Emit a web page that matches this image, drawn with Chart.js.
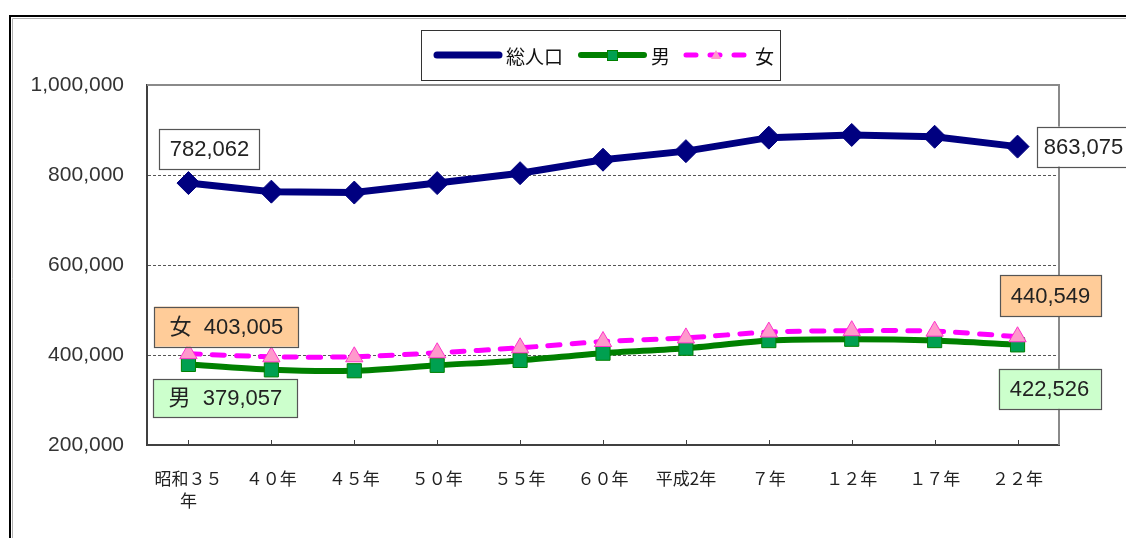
<!DOCTYPE html>
<html>
<head>
<meta charset="utf-8">
<script src="https://cdn.jsdelivr.net/npm/chart.js@4"></script>
<style>
  body { margin: 0; background: #fff; }
  #wrap { width: 1126px; height: 538px; }
</style>
</head>
<body>
<div id="wrap"><canvas id="popChart" width="1126" height="538"></canvas></div>
<script>
const years = [['昭和３５', '年'], '４０年', '４５年', '５０年', '５５年', '６０年', '平成2年', '７年', '１２年', '１７年', '２２年'];
const totalPop = [782062, 763000, 761000, 782000, 804000, 834000, 853000, 883000, 889000, 885000, 863075];
const malePop = [379057, 367000, 365000, 377000, 388000, 404000, 415000, 432000, 435000, 432000, 422526];
const femalePop = [403005, 396000, 396000, 405000, 416000, 430000, 438000, 451000, 454000, 453000, 440549];
const yTicks = [200000, 400000, 600000, 800000, 1000000];

const FONT = '"Noto Sans CJK JP", "Noto Sans", sans-serif';
const NUM_FONT = '"Liberation Sans", "Noto Sans CJK JP", sans-serif';
const fmt = v => v.toLocaleString('en-US');

// frame around the whole figure + plot border + inward ticks
const framePlugin = {
    id: 'frame',
    beforeDraw(chart) {
        const ctx = chart.ctx;
        ctx.save();
        ctx.fillStyle = '#fff';
        ctx.fillRect(0, 0, chart.width, chart.height);
        ctx.strokeStyle = '#000';
        ctx.lineWidth = 2;
        ctx.beginPath();
        ctx.moveTo(10, chart.height);
        ctx.lineTo(10, 16);
        ctx.lineTo(chart.width, 16);
        ctx.stroke();
        ctx.strokeStyle = '#b0b0b0';
        ctx.lineWidth = 1;
        ctx.beginPath();
        ctx.moveTo(12.5, chart.height);
        ctx.lineTo(12.5, 18.5);
        ctx.lineTo(chart.width, 18.5);
        ctx.stroke();
        ctx.restore();
    },
    beforeDatasetsDraw(chart) {
        const { ctx, chartArea: a, scales } = chart;
        ctx.save();
        ctx.strokeStyle = '#8a8a8a';
        ctx.lineWidth = 2;
        ctx.beginPath();
        ctx.moveTo(a.left, a.top);
        ctx.lineTo(a.right, a.top);
        ctx.lineTo(a.right, a.bottom);
        ctx.stroke();
        ctx.strokeStyle = '#404040';
        ctx.lineWidth = 1;
        ctx.beginPath();
        years.forEach((_, i) => {
            const x = Math.round(scales.x.getPixelForValue(i)) + 0.5;
            ctx.moveTo(x, a.bottom);
            ctx.lineTo(x, a.bottom - 5);
        });
        ctx.stroke();
        ctx.restore();
    }
};

// boxed value labels at the first and last year
function drawBox(ctx, cx, cy, w, h, fill, text) {
    ctx.fillStyle = fill;
    ctx.fillRect(cx - w / 2, cy - h / 2, w, h);
    ctx.strokeStyle = '#555';
    ctx.lineWidth = 1.2;
    ctx.strokeRect(Math.round(cx - w / 2) + 0.5, Math.round(cy - h / 2) + 0.5, w, h);
    ctx.fillStyle = '#222';
    ctx.font = '22px ' + NUM_FONT;
    ctx.textAlign = 'center';
    ctx.textBaseline = 'middle';
    ctx.fillText(text, cx, cy + 1);
}

const valueLabels = {
    id: 'valueLabels',
    afterDatasetsDraw(chart) {
        const ctx = chart.ctx;
        const last = years.length - 1;
        const pt = (ds, i) => chart.getDatasetMeta(ds).data[i];
        ctx.save();
        let p = pt(0, 0);
        drawBox(ctx, p.x + 21, p.y - 34, 100, 40, '#fff', fmt(totalPop[0]));
        p = pt(0, last);
        drawBox(ctx, p.x + 66, p.y, 94, 40, '#fff', fmt(totalPop[last]));
        p = pt(2, 0);
        drawBox(ctx, p.x + 38, p.y - 27, 144, 40, '#ffcc99', '女  ' + fmt(femalePop[0]));
        p = pt(1, 0);
        drawBox(ctx, p.x + 37, p.y + 34, 144, 38, '#ccffcc', '男  ' + fmt(malePop[0]));
        p = pt(2, last);
        drawBox(ctx, p.x + 33, p.y - 41, 101, 41, '#ffcc99', fmt(femalePop[last]));
        p = pt(1, last);
        drawBox(ctx, p.x + 32, p.y + 44, 102, 40, '#ccffcc', fmt(malePop[last]));
        ctx.restore();
    }
};

// legend box drawn at the top
const legendBox = {
    id: 'legendBox',
    afterDraw(chart) {
        const ctx = chart.ctx;
        ctx.save();
        ctx.fillStyle = '#fff';
        ctx.fillRect(421, 30, 359, 50);
        ctx.strokeStyle = '#333';
        ctx.lineWidth = 1;
        ctx.strokeRect(421.5, 30.5, 359, 50);
        const y = 55;
        ctx.lineCap = 'round';
        // 総人口
        ctx.strokeStyle = '#000080';
        ctx.lineWidth = 7;
        ctx.beginPath(); ctx.moveTo(437, y); ctx.lineTo(499, y); ctx.stroke();
        // 男
        ctx.strokeStyle = '#008000';
        ctx.lineWidth = 6;
        ctx.beginPath(); ctx.moveTo(581, y); ctx.lineTo(644, y); ctx.stroke();
        ctx.fillStyle = '#00a050';
        ctx.fillRect(607, 50, 10, 10);
        ctx.strokeStyle = '#008000';
        ctx.lineWidth = 1;
        ctx.strokeRect(607.5, 50.5, 10, 10);
        // 女
        ctx.strokeStyle = '#ff00ff';
        ctx.lineWidth = 5;
        ctx.setLineDash([10, 14]);
        ctx.beginPath(); ctx.moveTo(686, y); ctx.lineTo(746, y); ctx.stroke();
        ctx.setLineDash([]);
        ctx.fillStyle = '#ff99cc';
        ctx.beginPath();
        ctx.moveTo(716, 50); ctx.lineTo(721, 59); ctx.lineTo(711, 59); ctx.closePath();
        ctx.fill();
        ctx.fillStyle = '#111';
        ctx.font = '19px ' + FONT;
        ctx.textAlign = 'left';
        ctx.textBaseline = 'middle';
        ctx.fillText('総人口', 506, 57);
        ctx.fillText('男', 651, 57);
        ctx.fillText('女', 755, 57);
        ctx.restore();
    }
};

new Chart(document.getElementById('popChart'), {
    type: 'line',
    data: {
        labels: years,
        datasets: [{
            label: '総人口',
            data: totalPop,
            borderColor: '#000080',
            backgroundColor: '#000080',
            borderWidth: 7,
            pointStyle: 'rectRot',
            pointRadius: 11.5,
            pointBorderWidth: 1,
            tension: 0,
            order: 2
        }, {
            label: '男',
            data: malePop,
            borderColor: '#008000',
            backgroundColor: '#00a050',
            pointBorderColor: '#008000',
            borderWidth: 6,
            pointStyle: 'rect',
            pointRadius: 10,
            pointBorderWidth: 1,
            tension: 0.25,
            order: 1
        }, {
            label: '女',
            data: femalePop,
            borderColor: '#ff00ff',
            backgroundColor: '#ff99cc',
            pointBorderColor: '#ff33cc',
            borderWidth: 5,
            borderDash: [12, 12],
            borderCapStyle: 'round',
            pointStyle: 'triangle',
            pointRadius: 10,
            pointBorderWidth: 1,
            tension: 0.25,
            order: 0
        }]
    },
    options: {
        responsive: false,
        animation: false,
        devicePixelRatio: 1,
        layout: { padding: { top: 85, right: 67, left: 0, bottom: 0 } },
        plugins: {
            legend: { display: false },
            tooltip: { enabled: false }
        },
        scales: {
            x: {
                offset: true,
                grid: { display: false, drawTicks: false },
                border: { color: '#404040', width: 2 },
                ticks: {
                    padding: 22,
                    maxRotation: 0,
                    autoSkip: false,
                    color: '#222',
                    font: { family: FONT, size: 17, lineHeight: 1.3 }
                },
                afterFit(scale) { scale.height = 93; }
            },
            y: {
                min: yTicks[0],
                max: yTicks[yTicks.length - 1],
                afterBuildTicks(scale) { scale.ticks = yTicks.map(v => ({ value: v })); },
                grid: {
                    drawTicks: false,
                    color: c => (c.tick && (c.tick.value === yTicks[0] || c.tick.value === yTicks[yTicks.length - 1])) ? 'rgba(0,0,0,0)' : '#555',
                    lineWidth: 1
                },
                border: { color: '#404040', width: 2, dash: [3, 2] },
                ticks: {
                    padding: 23,
                    color: '#333',
                    font: { family: NUM_FONT, size: 21 },
                    callback: v => fmt(v)
                },
                afterFit(scale) { scale.width = 147; }
            }
        }
    },
    plugins: [framePlugin, valueLabels, legendBox]
});
</script>
</body>
</html>
